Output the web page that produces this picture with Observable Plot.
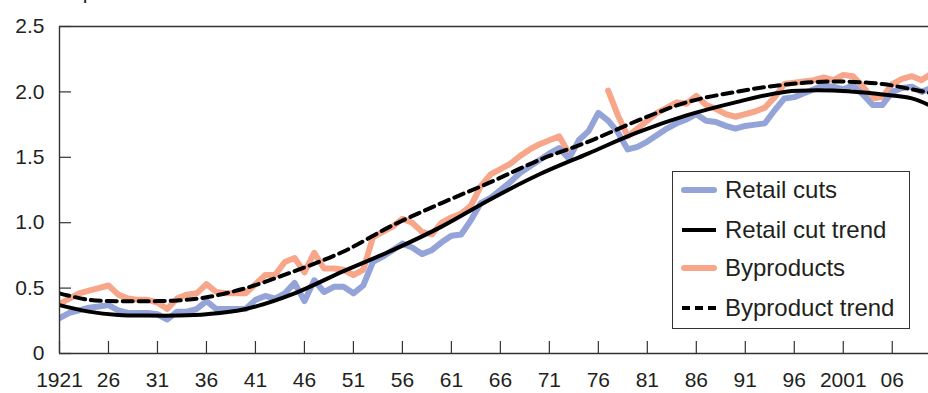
<!DOCTYPE html>
<html>
<head>
<meta charset="utf-8">
<script src="https://cdn.jsdelivr.net/npm/d3@7"></script>
<script src="https://cdn.jsdelivr.net/npm/@observablehq/plot@0.6"></script>
<style>
  body { margin: 0; background: #fff; }
  #wrap { position: relative; width: 928px; height: 393px; overflow: hidden; font-family: "Liberation Sans", Arial, sans-serif; color: #231f20; }
  #unit { position: absolute; left: 21px; top: -20px; font-size: 21px; white-space: nowrap; }
  #legend { position: absolute; left: 672px; top: 171px; width: 238px; height: 158px; box-sizing: border-box; border: 1.2px solid #333; background: #fff; }
  .row { position: absolute; left: 0; height: 30px; display: flex; align-items: center; font-size: 24px; white-space: nowrap; }
  .row svg { margin-left: 8px; margin-right: 8px; }
</style>
</head>
<body>
<div id="wrap">
  <div id="chart"></div>
  <div id="unit">Billion pounds</div>
  <div id="legend"></div>
</div>
<script>
// ---- data ----
const firstYear = 1921;
const retailCuts = [
  0.27, 0.31, 0.33, 0.35, 0.36, 0.37, 0.33, 0.31, 0.31, 0.31, // 1921-1930
  0.30, 0.26, 0.32, 0.32, 0.34, 0.40, 0.34, 0.34, 0.34, 0.34, // 1931-1940
  0.41, 0.44, 0.42, 0.46, 0.54, 0.40, 0.56, 0.47, 0.51, 0.51, // 1941-1950
  0.46, 0.52, 0.70, 0.74, 0.79, 0.84, 0.81, 0.76, 0.79, 0.85, // 1951-1960
  0.90, 0.91, 1.02, 1.15, 1.19, 1.25, 1.31, 1.38, 1.43, 1.48, // 1961-1970
  1.53, 1.57, 1.49, 1.63, 1.70, 1.84, 1.78, 1.69, 1.56, 1.58, // 1971-1980
  1.62, 1.67, 1.72, 1.76, 1.79, 1.83, 1.78, 1.77, 1.74, 1.72, // 1981-1990
  1.74, 1.75, 1.76, 1.86, 1.95, 1.96, 1.99, 2.02, 2.05, 2.04, // 1991-2000
  2.02, 2.05, 1.98, 1.90, 1.90, 2.00, 2.03, 2.04, 2.00, 2.03  // 2001-2010
];
const byproducts = [
  0.38, 0.42, 0.46, 0.48, 0.50, 0.52, 0.45, 0.42, 0.41, 0.41, // 1921-1930
  0.39, 0.34, 0.42, 0.45, 0.46, 0.53, 0.47, 0.46, 0.46, 0.46, // 1931-1940
  0.53, 0.60, 0.60, 0.70, 0.73, 0.62, 0.77, 0.65, 0.65, 0.64, // 1941-1950
  0.60, 0.64, 0.89, 0.93, 0.97, 1.03, 1.00, 0.93, 0.91, 1.00, // 1951-1960
  1.04, 1.07, 1.13, 1.28, 1.37, 1.41, 1.45, 1.51, 1.56, 1.60, // 1961-1970
  1.63, 1.66, 1.53, null, null, null, 2.01, 1.82, 1.66, 1.72, // 1971-1980
  1.78, 1.84, 1.88, 1.92, 1.91, 1.97, 1.90, 1.87, 1.83, 1.81, // 1981-1990
  1.83, 1.85, 1.88, 1.96, 2.06, 2.07, 2.08, 2.09, 2.11, 2.09, // 1991-2000
  2.13, 2.12, 2.04, 1.95, 1.96, 2.06, 2.10, 2.12, 2.09, 2.14  // 2001-2010
];
const trendYears = [1921, 1924, 1927, 1930, 1933, 1936, 1940, 1945, 1950, 1955, 1960, 1965, 1970, 1975, 1980, 1985, 1990, 1995, 2000, 2005, 2008, 2010];
const retailTrend = [0.37, 0.32, 0.295, 0.29, 0.29, 0.30, 0.34, 0.46, 0.63, 0.79, 0.97, 1.18, 1.37, 1.53, 1.69, 1.82, 1.92, 2.00, 2.01, 1.98, 1.95, 1.89];
const byproductTrend = [0.46, 0.41, 0.40, 0.40, 0.405, 0.43, 0.50, 0.63, 0.78, 0.98, 1.15, 1.31, 1.48, 1.62, 1.78, 1.92, 2.00, 2.055, 2.08, 2.06, 2.02, 1.99];
const yTicks = [0, 0.5, 1.0, 1.5, 2.0, 2.5];
const yTickLabels = ["0", "0.5", "1.0", "1.5", "2.0", "2.5"];
const xTicks = [1921, 1926, 1931, 1936, 1941, 1946, 1951, 1956, 1961, 1966, 1971, 1976, 1981, 1986, 1991, 1996, 2001, 2006];
const xTickLabels = ["1921", "26", "31", "36", "41", "46", "51", "56", "61", "66", "71", "76", "81", "86", "91", "96", "2001", "06"];
const seriesNames = ["Retail cuts", "Retail cut trend", "Byproducts", "Byproduct trend"];
const seriesColors = ["#94a3d8", "#000000", "#f8a68a", "#000000"];

// ---- tables ----
const rows = (arr) => arr.map((v, i) => ({year: firstYear + i, value: v}));
const trendRows = (arr) => arr.map((v, i) => ({year: trendYears[i], value: v}));
const axisColor = "#333";

const chart = Plot.plot({
  width: 928,
  height: 393,
  marginLeft: 59,
  marginRight: 0,
  marginTop: 26,
  marginBottom: 40,
  style: {fontFamily: '"Liberation Sans", Arial, sans-serif', fontSize: "21px", color: "#231f20", background: "#fff"},
  x: {domain: [1921, 2009.7]},
  y: {domain: [0, 2.5]},
  marks: [
    Plot.line(rows(byproducts), {x: "year", y: "value", stroke: seriesColors[2], strokeWidth: 6, strokeLinejoin: "round", strokeLinecap: "round", clip: true}),
    Plot.line(rows(retailCuts), {x: "year", y: "value", stroke: seriesColors[0], strokeWidth: 6, strokeLinejoin: "round", strokeLinecap: "round", clip: true}),
    Plot.line(trendRows(retailTrend), {x: "year", y: "value", stroke: seriesColors[1], strokeWidth: 4, curve: "catmull-rom", clip: true}),
    Plot.line(trendRows(byproductTrend), {x: "year", y: "value", stroke: seriesColors[3], strokeWidth: 4, strokeDasharray: "10,6", curve: "catmull-rom", clip: true}),
    Plot.ruleY([0, 2.5], {stroke: axisColor, strokeWidth: 1.4}),
    Plot.ruleX([1921], {stroke: axisColor, strokeWidth: 1.4}),
    Plot.axisY({ticks: yTicks, tickFormat: (d, i) => yTickLabels[i], tickSize: -12, tickPadding: 27, stroke: axisColor, strokeWidth: 1.2, label: null}),
    Plot.axisX({ticks: xTicks, tickFormat: (d, i) => xTickLabels[i], tickSize: -12, tickPadding: 31, stroke: axisColor, strokeWidth: 1.2, label: null})
  ]
});
document.getElementById("chart").appendChild(chart);

// ---- legend ----
const legend = document.getElementById("legend");
const rowTops = [3, 43, 81, 121];
seriesNames.forEach((name, i) => {
  const div = document.createElement("div");
  div.className = "row";
  div.style.top = rowTops[i] + "px";
  const dashed = name === "Byproduct trend";
  const thick = i === 0 || i === 2;
  div.innerHTML = `<svg width="36" height="12"><line x1="${thick ? 3 : 1}" x2="${thick ? 33 : 35}" y1="6" y2="6" stroke="${seriesColors[i]}" stroke-width="${thick ? 6 : 4}" stroke-linecap="${thick ? "round" : "butt"}" ${dashed ? 'stroke-dasharray="8,5"' : ""}/></svg><span>${name}</span>`;
  legend.appendChild(div);
});
</script>
</body>
</html>
